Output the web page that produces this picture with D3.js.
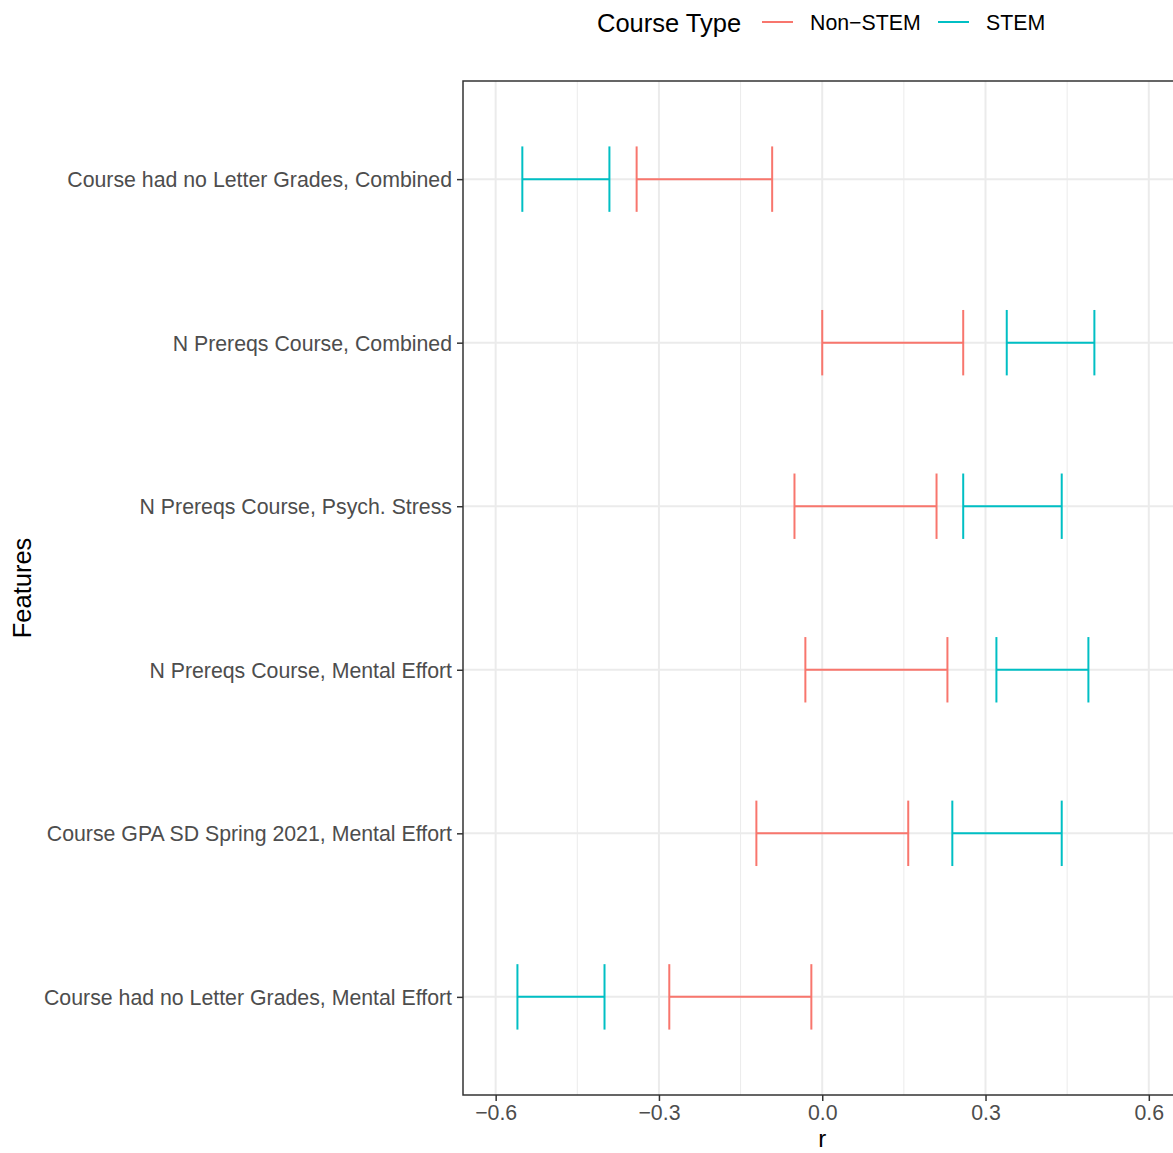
<!DOCTYPE html>
<html>
<head>
<meta charset="utf-8">
<script src="https://cdn.jsdelivr.net/npm/d3@7.9.0/dist/d3.min.js"></script>
<style>
  body { margin: 0; background: #fff; }
  svg { font-family: "Liberation Sans", Arial, sans-serif; }
</style>
</head>
<body>
<svg id="chart" width="1173" height="1153"></svg>
<script>
// features, top to bottom
const features = [
  'Course had no Letter Grades, Combined',
  'N Prereqs Course, Combined',
  'N Prereqs Course, Psych. Stress',
  'N Prereqs Course, Mental Effort',
  'Course GPA SD Spring 2021, Mental Effort',
  'Course had no Letter Grades, Mental Effort'
];
const courseTypes = ['Non\u2212STEM', 'STEM'];
const colors = ['#F8766D', '#00BFC4'];

// confidence intervals [low, high] per feature
const nonStemLow  = [-0.341, 0.000, -0.051, -0.031, -0.121, -0.281];
const nonStemHigh = [-0.092, 0.259,  0.210,  0.230,  0.158, -0.020];
const stemLow     = [-0.551, 0.339,  0.259,  0.320,  0.239, -0.560];
const stemHigh    = [-0.391, 0.500,  0.440,  0.489,  0.440, -0.400];

const xTicks = [-0.6, -0.3, 0.0, 0.3, 0.6];
const xMinor = [-0.45, -0.15, 0.15, 0.45];

const rows = [];
features.forEach((f, i) => {
  rows.push({ feature: f, type: 0, lo: nonStemLow[i], hi: nonStemHigh[i] });
  rows.push({ feature: f, type: 1, lo: stemLow[i], hi: stemHigh[i] });
});

const svg = d3.select('#chart');
const pLeft = 463, pTop = 81, pRight = 1188, pBottom = 1095;

const x = d3.scaleLinear().domain([-0.66, 0.672]).range([pLeft, pRight]);
const y = d3.scalePoint().domain(features).range([pTop, pBottom]).padding(0.6);
const step = y.step();

// grid
const grid = svg.append('g');
grid.selectAll('.minor').data(xMinor).join('line')
  .attr('x1', d => x(d)).attr('x2', d => x(d))
  .attr('y1', pTop).attr('y2', pBottom)
  .attr('stroke', '#ebebeb').attr('stroke-width', 1);
grid.selectAll('.major').data(xTicks).join('line')
  .attr('x1', d => x(d)).attr('x2', d => x(d))
  .attr('y1', pTop).attr('y2', pBottom)
  .attr('stroke', '#ebebeb').attr('stroke-width', 2);
grid.selectAll('.ymajor').data(features).join('line')
  .attr('x1', pLeft).attr('x2', pRight)
  .attr('y1', d => y(d)).attr('y2', d => y(d))
  .attr('stroke', '#ebebeb').attr('stroke-width', 2);

// error bars
const capH = step * 0.2;
const bars = svg.append('g').selectAll('g').data(rows).join('g')
  .attr('stroke', d => colors[d.type]).attr('stroke-width', 2).attr('fill', 'none');
bars.append('line')
  .attr('x1', d => x(d.lo)).attr('x2', d => x(d.hi))
  .attr('y1', d => y(d.feature)).attr('y2', d => y(d.feature));
bars.append('line')
  .attr('x1', d => x(d.lo)).attr('x2', d => x(d.lo))
  .attr('y1', d => y(d.feature) - capH).attr('y2', d => y(d.feature) + capH);
bars.append('line')
  .attr('x1', d => x(d.hi)).attr('x2', d => x(d.hi))
  .attr('y1', d => y(d.feature) - capH).attr('y2', d => y(d.feature) + capH);

// panel border
svg.append('rect')
  .attr('x', pLeft).attr('y', pTop)
  .attr('width', pRight - pLeft).attr('height', pBottom - pTop)
  .attr('fill', 'none').attr('stroke', '#333333').attr('stroke-width', 1.5);

// axes
const xAxis = svg.append('g')
  .attr('transform', `translate(0,${pBottom})`)
  .call(d3.axisBottom(x).tickValues(xTicks).tickFormat(d3.format('.1f')).tickSize(6).tickPadding(4));
const yAxis = svg.append('g')
  .attr('transform', `translate(${pLeft},0)`)
  .call(d3.axisLeft(y).tickSize(6).tickPadding(5));
[xAxis, yAxis].forEach(a => {
  a.select('.domain').remove();
  a.selectAll('.tick line').attr('stroke', '#333333').attr('stroke-width', 1.5);
  a.selectAll('.tick text').attr('fill', '#4d4d4d')
    .style('font-size', '21.3px').style('font-family', '"Liberation Sans", Arial, sans-serif');
});
yAxis.selectAll('.tick text').attr('dy', '0.35em');
xAxis.selectAll('.tick text').attr('dy', null).attr('y', 25);

// axis titles
svg.append('text').attr('x', x(0)).attr('y', 1147)
  .attr('text-anchor', 'middle').style('font-size', '24px').text('r');
svg.append('text')
  .attr('transform', `translate(31,${(pTop + pBottom) / 2}) rotate(-90)`)
  .attr('text-anchor', 'middle').style('font-size', '25.5px').text('Features');

// legend
const legend = svg.append('g');
legend.append('text').attr('x', 597).attr('y', 32)
  .style('font-size', '25.5px').text('Course Type');
const keyX = [762, 938];
courseTypes.forEach((t, i) => {
  legend.append('line')
    .attr('x1', keyX[i]).attr('x2', keyX[i] + 31)
    .attr('y1', 22).attr('y2', 22)
    .attr('stroke', colors[i]).attr('stroke-width', 2);
  legend.append('text').attr('x', keyX[i] + 48).attr('y', 30)
    .style('font-size', '21.3px').text(t);
});
</script>
</body>
</html>
